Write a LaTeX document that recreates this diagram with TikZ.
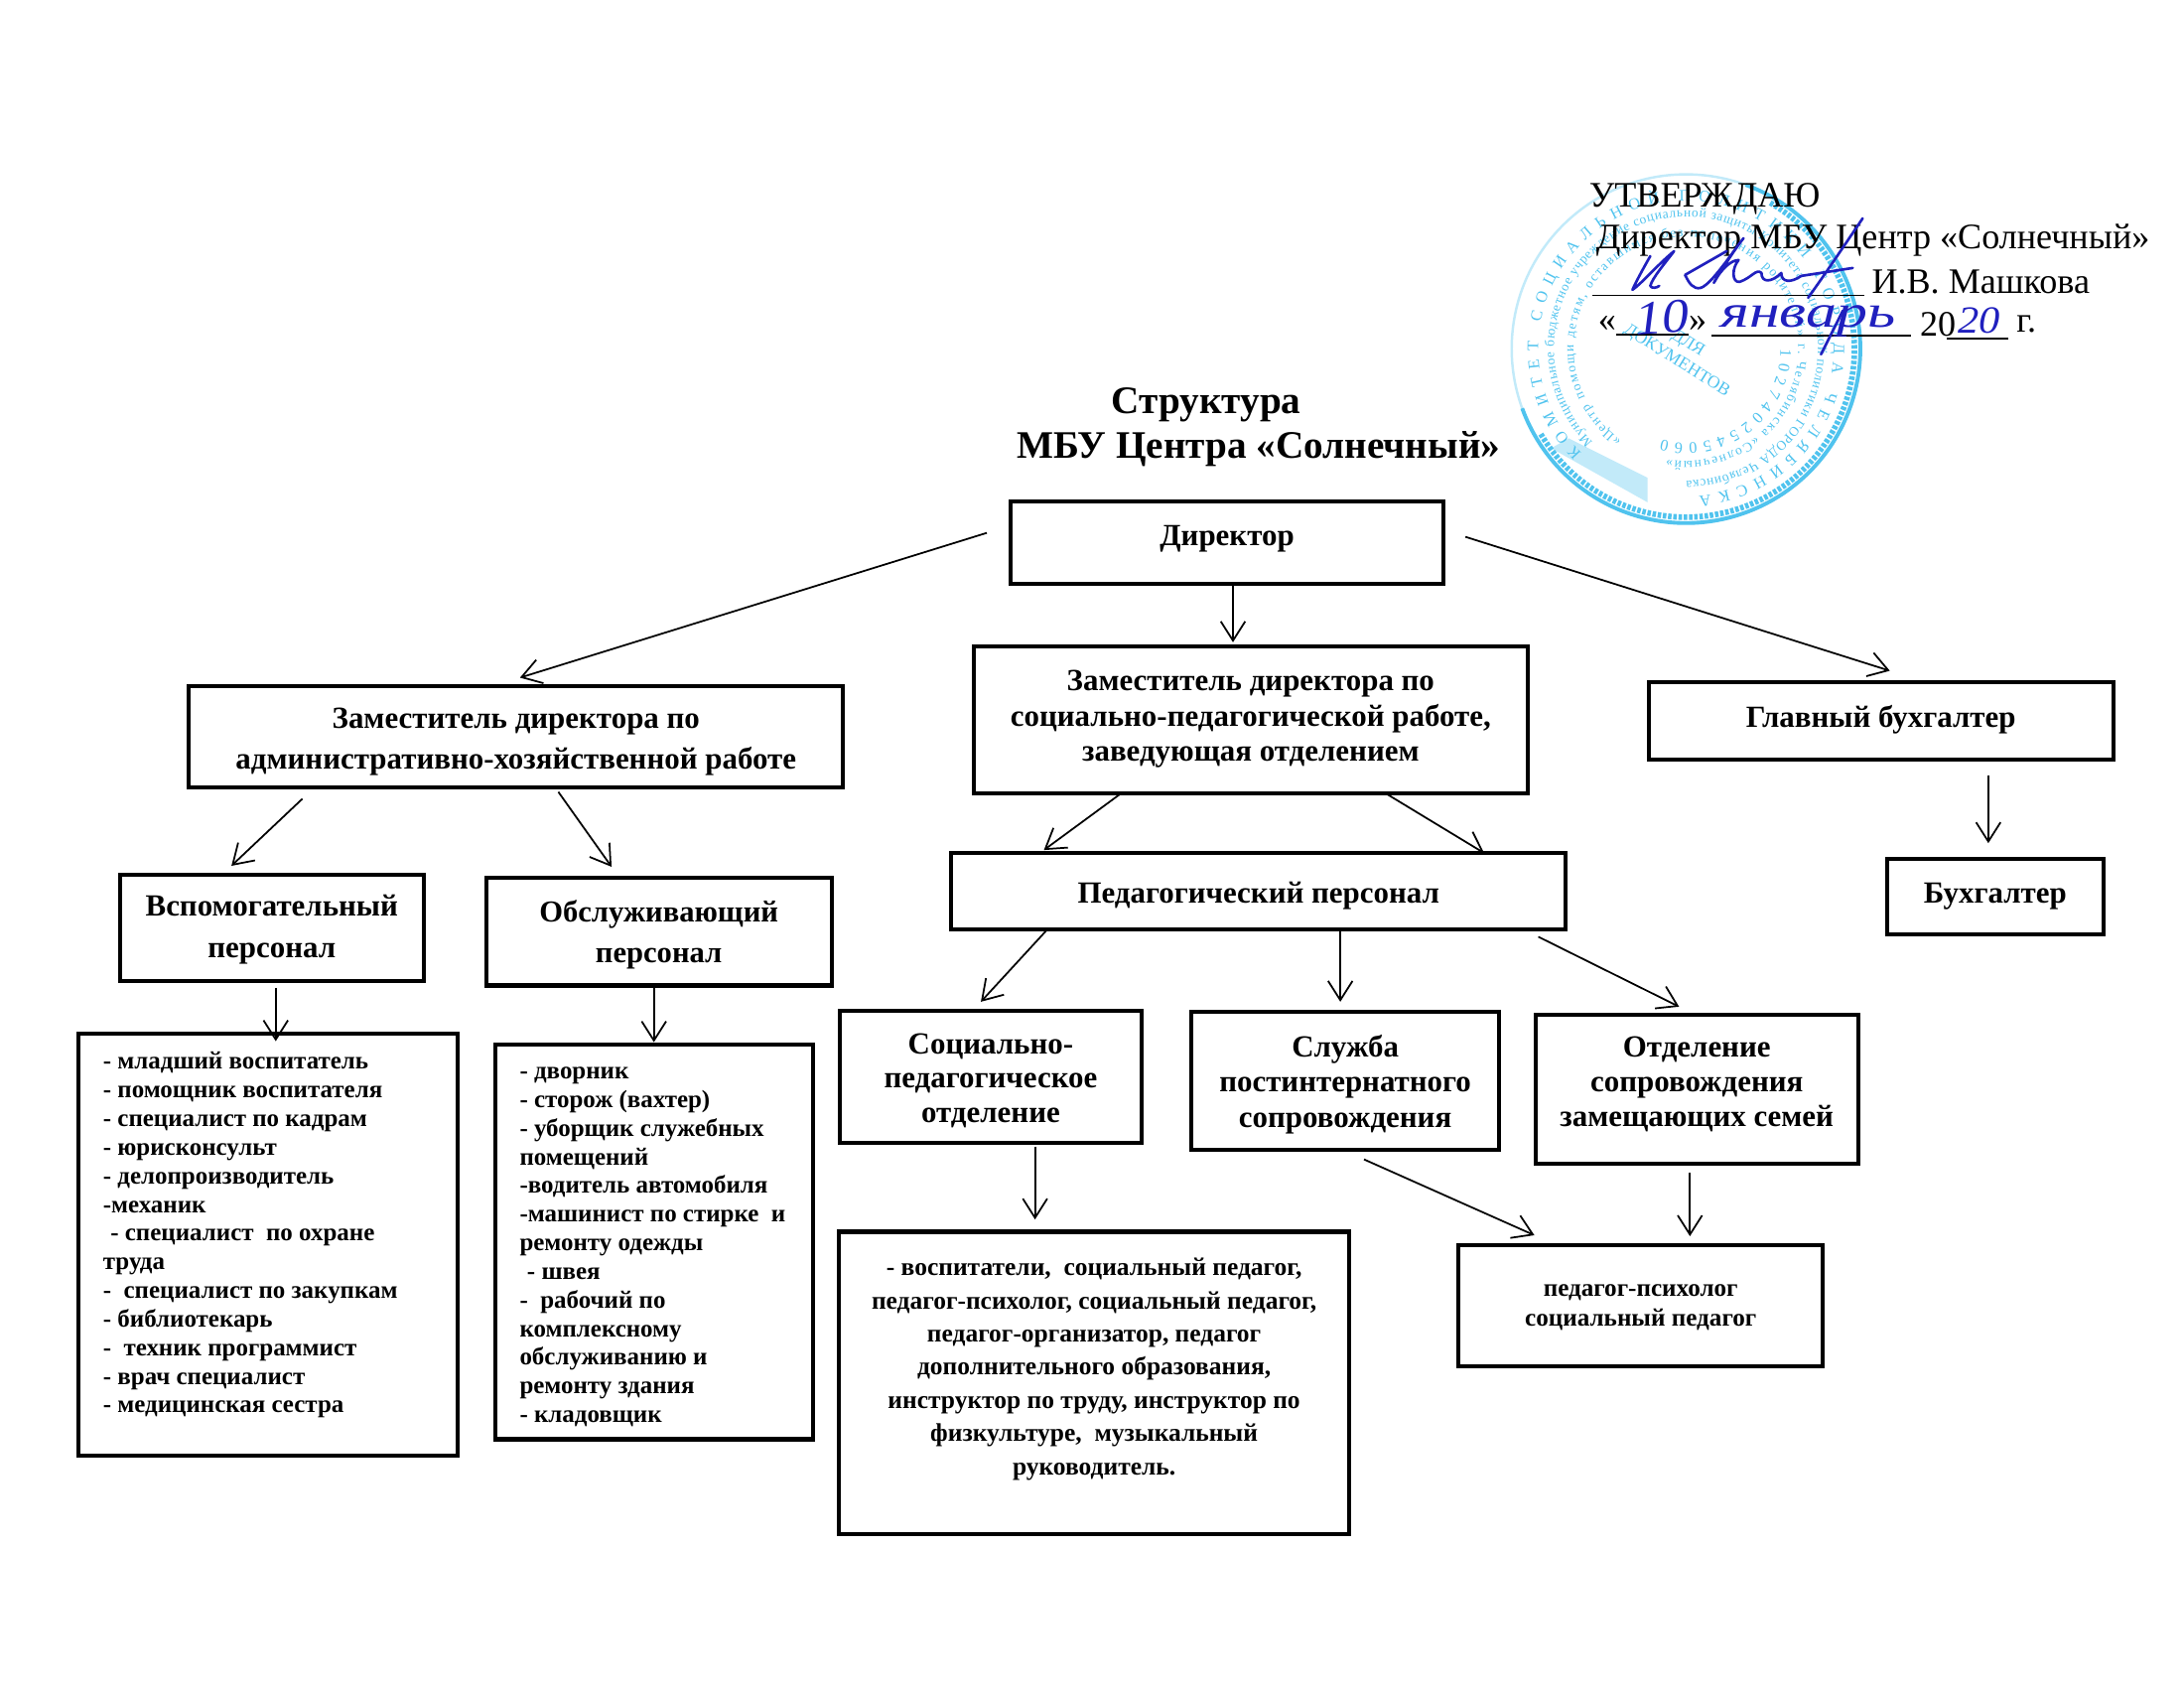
\documentclass[tikz,border=0pt]{standalone}
\usepackage{fontspec}
\setmainfont{Liberation Serif}
\usetikzlibrary{arrows.meta,decorations.text}
\definecolor{stampBlue}{RGB}{80,195,238}
\definecolor{inkBlue}{RGB}{32,32,190}
\newcommand{\stampfont}{\fontsize{4.6}{5}\selectfont}
\newcommand{\stampsmall}{\fontsize{3.8}{4}\selectfont}

\begin{document}
\begin{tikzpicture}
[x=0.00992cm,y=-0.00992cm,
  boxDecorate/.style={shape=rectangle,draw,line width=1.15pt,inner sep=0pt},%
  textDecorate/.style={inner sep=0pt,align=center},%
  arrowDecorate/.style={-{Straight Barb[length=5.5pt,width=7pt]},line width=0.5pt},%
  listDecorate/.style={inner sep=0pt,align=left,font=\fontsize{7.1}{8.2}\selectfont\bfseries},%
  headDecorate/.style={inner sep=0pt,anchor=west,font=\fontsize{10.27}{12}\selectfont},%
  ruleDecorate/.style={line width=0.5pt},%
  inkDecorate/.style={draw=inkBlue,line width=0.75pt,line cap=round,line join=round},%
  handDecorate/.style={inner sep=0pt,text=inkBlue,font=\fontsize{11}{12}\selectfont\itshape},%
  ringDecorate/.style={decorate,decoration={text along path,text align={fit to path},text color=stampBlue,text={#1}}}]
\useasboundingbox (0,0) rectangle (2217.7,1713.7);
%% stamp
\draw[stampBlue!35,line width=0.7pt] (1712,354) circle[radius=177];
\draw[stampBlue,line width=1.1pt] (1712,354) ++(-70:177) arc[start angle=-70,delta angle=230,radius=177];
\draw[stampBlue,line width=1.6pt,dash pattern=on 1pt off 0.5pt] (1712,354) ++(-60:171) arc[start angle=-60,delta angle=210,radius=171];
\fill[stampBlue,opacity=0.35] (1575,455) -- (1593,445) -- (1673,485) -- (1673,510) -- cycle;
\path[ringDecorate={|\stampfont|КОМИТЕТ СОЦИАЛЬНОЙ ПОЛИТИКИ ГОРОДА ЧЕЛЯБИНСКА}] (1712,354) ++(135:150) arc[start angle=135,delta angle=310,radius=150];
\path[ringDecorate={|\stampsmall|Муниципальное бюджетное учреждение социальной защиты Комитета социальной политики ГОРОДА Челябинска}] (1712,354) ++(135:134) arc[start angle=135,delta angle=315,radius=134];
\path[ringDecorate={|\stampsmall|«Центр помощи детям, оставшимся без попечения родителей» г. Челябинска «Солнечный»}] (1712,354) ++(125:114) arc[start angle=125,delta angle=335,radius=114];
\path[ringDecorate={|\stampfont|1027402545060}] (1712,354) ++(0:96) arc[start angle=0,delta angle=105,radius=96];
\node[inner sep=0pt,rotate=-32,text=stampBlue,font=\fontsize{5}{6}\selectfont,align=center] (stampText) at (1708,358) {ДЛЯ\\ДОКУМЕНТОВ};

%% approval block
\node (approveA) at (1613,202) [headDecorate] {УТВЕРЖДАЮ};
\node (approveB) at (1620,244) [headDecorate] {Директор МБУ Центр «Солнечный»};
\node (approveC) at (1900,286) [headDecorate] {И.В. Машкова};
\node (approveD) at (1622,329) [headDecorate] {«};
\node (approveE) at (1714,329) [headDecorate] {»};
\node (approveF) at (1949,329) [headDecorate] {20};
\node (approveG) at (2047,329) [headDecorate] {г.};
\draw[ruleDecorate] (1617,300) -- (1893,300);
\draw[ruleDecorate] (1641,340) -- (1715,340);
\draw[ruleDecorate] (1738,341) -- (1940,341);
\draw[ruleDecorate] (1977,344) -- (2039,344);

%% handwriting
\begin{scope}[x=0.01cm,y=-0.01cm]
\draw[inkDecorate] (1663,258) .. controls (1655,272) and (1648,285) .. (1645,292) .. controls (1655,285) and (1672,265) .. (1687,253) .. controls (1678,265) and (1665,280) .. (1663,288) .. controls (1664,291) and (1670,290) .. (1672,288);
\draw[inkDecorate] (1740,253) -- (1698,277) .. controls (1702,285) and (1706,292) .. (1714,290) .. controls (1725,286) and (1745,255) .. (1757,240) .. controls (1745,255) and (1730,280) .. (1727,285) .. controls (1735,270) and (1745,262) .. (1752,262) .. controls (1745,270) and (1745,285) .. (1753,284) .. controls (1765,280) and (1770,270) .. (1775,275) .. controls (1775,285) and (1785,285) .. (1795,275) .. controls (1795,285) and (1805,285) .. (1815,278) -- (1867,270);
\draw[inkDecorate] (1877,220) .. controls (1860,245) and (1840,275) .. (1822,300);
\draw[inkDecorate] (1857,313) -- (1835,357);
\end{scope}
\node[handDecorate,rotate=4] (handDay) at (1688,322) {\scalebox{1.4}[1.25]{10}};
\node[handDecorate] (handMonth) at (1836,326) {\scalebox{1.6}[1.2]{январь}};
\node[handDecorate] (handYear) at (2010,325) {\scalebox{1.1}[1]{20}};

%% title
\node (titleA) at (1225,411) [inner sep=0pt,font=\fontsize{11.15}{12}\selectfont\bfseries] {Структура};
\node (titleB) at (1278,456) [inner sep=0pt,font=\fontsize{11.15}{12}\selectfont\bfseries] {МБУ Центра «Солнечный»};

%% boxes
\foreach \nodename/\x/\y/\w/\h/\dy/\fs/\lead/\txt in {
  dirNode/1246/551/440/84/-4/8.8/11/{Директор},
  zamAhr/524/748/664/103/5/8.8/11.6/{Заместитель директора по\\административно-хозяйственной работе},
  zamSoc/1270/731/562/149/-1/8.8/10/{Заместитель директора по\\социально-педагогической работе,\\заведующая отделением},
  glavBuh/1910/732/472/78/-1/8.8/11/{Главный бухгалтер},
  vspomPers/276/942/309/108/2/8.8/11.9/{Вспомогательный\\персонал},
  obslPers/669/946/351/109/3/8.7/11.6/{Обслуживающий\\персонал},
  pedPers/1278/905/624/78/4/8.8/11/{Педагогический персонал},
  buhNode/2026/910/220/77/0/8.8/11/{Бухгалтер},
  socOtd/1006/1093/306/134/4/8.8/9.8/{Социально-\\педагогическое\\отделение},
  postSluzh/1366/1097/312/140/4/8.8/10.2/{Служба\\постинтернатного\\сопровождения},
  zamSem/1723/1106/328/151/-5/8.8/10/{Отделение\\сопровождения\\замещающих семей},
  socList/1111/1404/518/307/-14/7.25/9.5/{- воспитатели,~ социальный педагог,\\педагог-психолог, социальный педагог,\\педагог-организатор, педагог\\дополнительного образования,\\инструктор по труду, инструктор по\\физкультуре,~ музыкальный\\руководитель.},
  psyList/1666/1326/370/123/1/7.15/8.6/{педагог-психолог\\социальный педагог}}
{
  \node (\nodename) at (\x,\y) [boxDecorate,minimum width=\w*0.00992cm,minimum height=\h*0.00992cm] {};
  \node (\nodename Text) at ([yshift=-\dy*0.00992cm]\nodename.center) [textDecorate,font=\fontsize{\fs}{\lead}\selectfont\bfseries] {\txt};
}
\node (vspomList) at (272,1264) [boxDecorate,minimum width=3.82cm,minimum height=4.25cm] {};
\node (obslList) at (664,1261) [boxDecorate,minimum width=3.2cm,minimum height=3.97cm] {};

%% list texts
\node (vspomText) at (104,1254) [listDecorate,anchor=west] {- младший воспитатель\\
  - помощник воспитателя\\
  - специалист по кадрам\\
  - юрисконсульт\\
  - делопроизводитель\\
  -механик\\
  \hspace*{.3em}- специалист~ по охране\\
  труда\\
  -~ специалист по закупкам\\
  - библиотекарь\\
  -~ техник программист\\
  - врач специалист\\
  - медицинская сестра};
\node (obslText) at (527,1266) [listDecorate,anchor=west] {- дворник\\
  - сторож (вахтер)\\
  - уборщик служебных\\
  помещений\\
  -водитель автомобиля\\
  -машинист по стирке~ и\\
  ремонту одежды\\
  \hspace*{.3em}- швея\\
  -~ рабочий по\\
  комплексному\\
  обслуживанию и\\
  ремонту здания\\
  - кладовщик};

%% arrows
\path
\foreach \startnode/\ax/\ay/\endnode/\bx/\by in {
  dirNode/-244/-10/zamAhr/4/-60, dirNode/6/42/zamSoc/-18/-79,
  dirNode/242/-6/glavBuh/9/-51, zamAhr/-217/63/vspomPers/-41/-63,
  zamAhr/43/56/obslPers/-48/-66, zamSoc/-131/74/pedPers/-218/-42,
  zamSoc/138/75/pedPers/229/-39, glavBuh/109/55/buhNode/-7/-54,
  vspomPers/4/61/vspomList/8/-207, obslPers/-5/54/obslList/0/-203,
  pedPers/-213/37/socOtd/-10/-76, pedPers/83/39/postSluzh/-5/-80,
  pedPers/284/46/zamSem/-18/-84, socOtd/45/71/socList/-60/-166,
  postSluzh/19/80/psyList/-108/-72, zamSem/-7/84/psyList/50/-71}
{
  ([shift={(\ax,\ay)}]\startnode.center) edge[arrowDecorate] ([shift={(\bx,\by)}]\endnode.center)
};
\end{tikzpicture}
\end{document}
